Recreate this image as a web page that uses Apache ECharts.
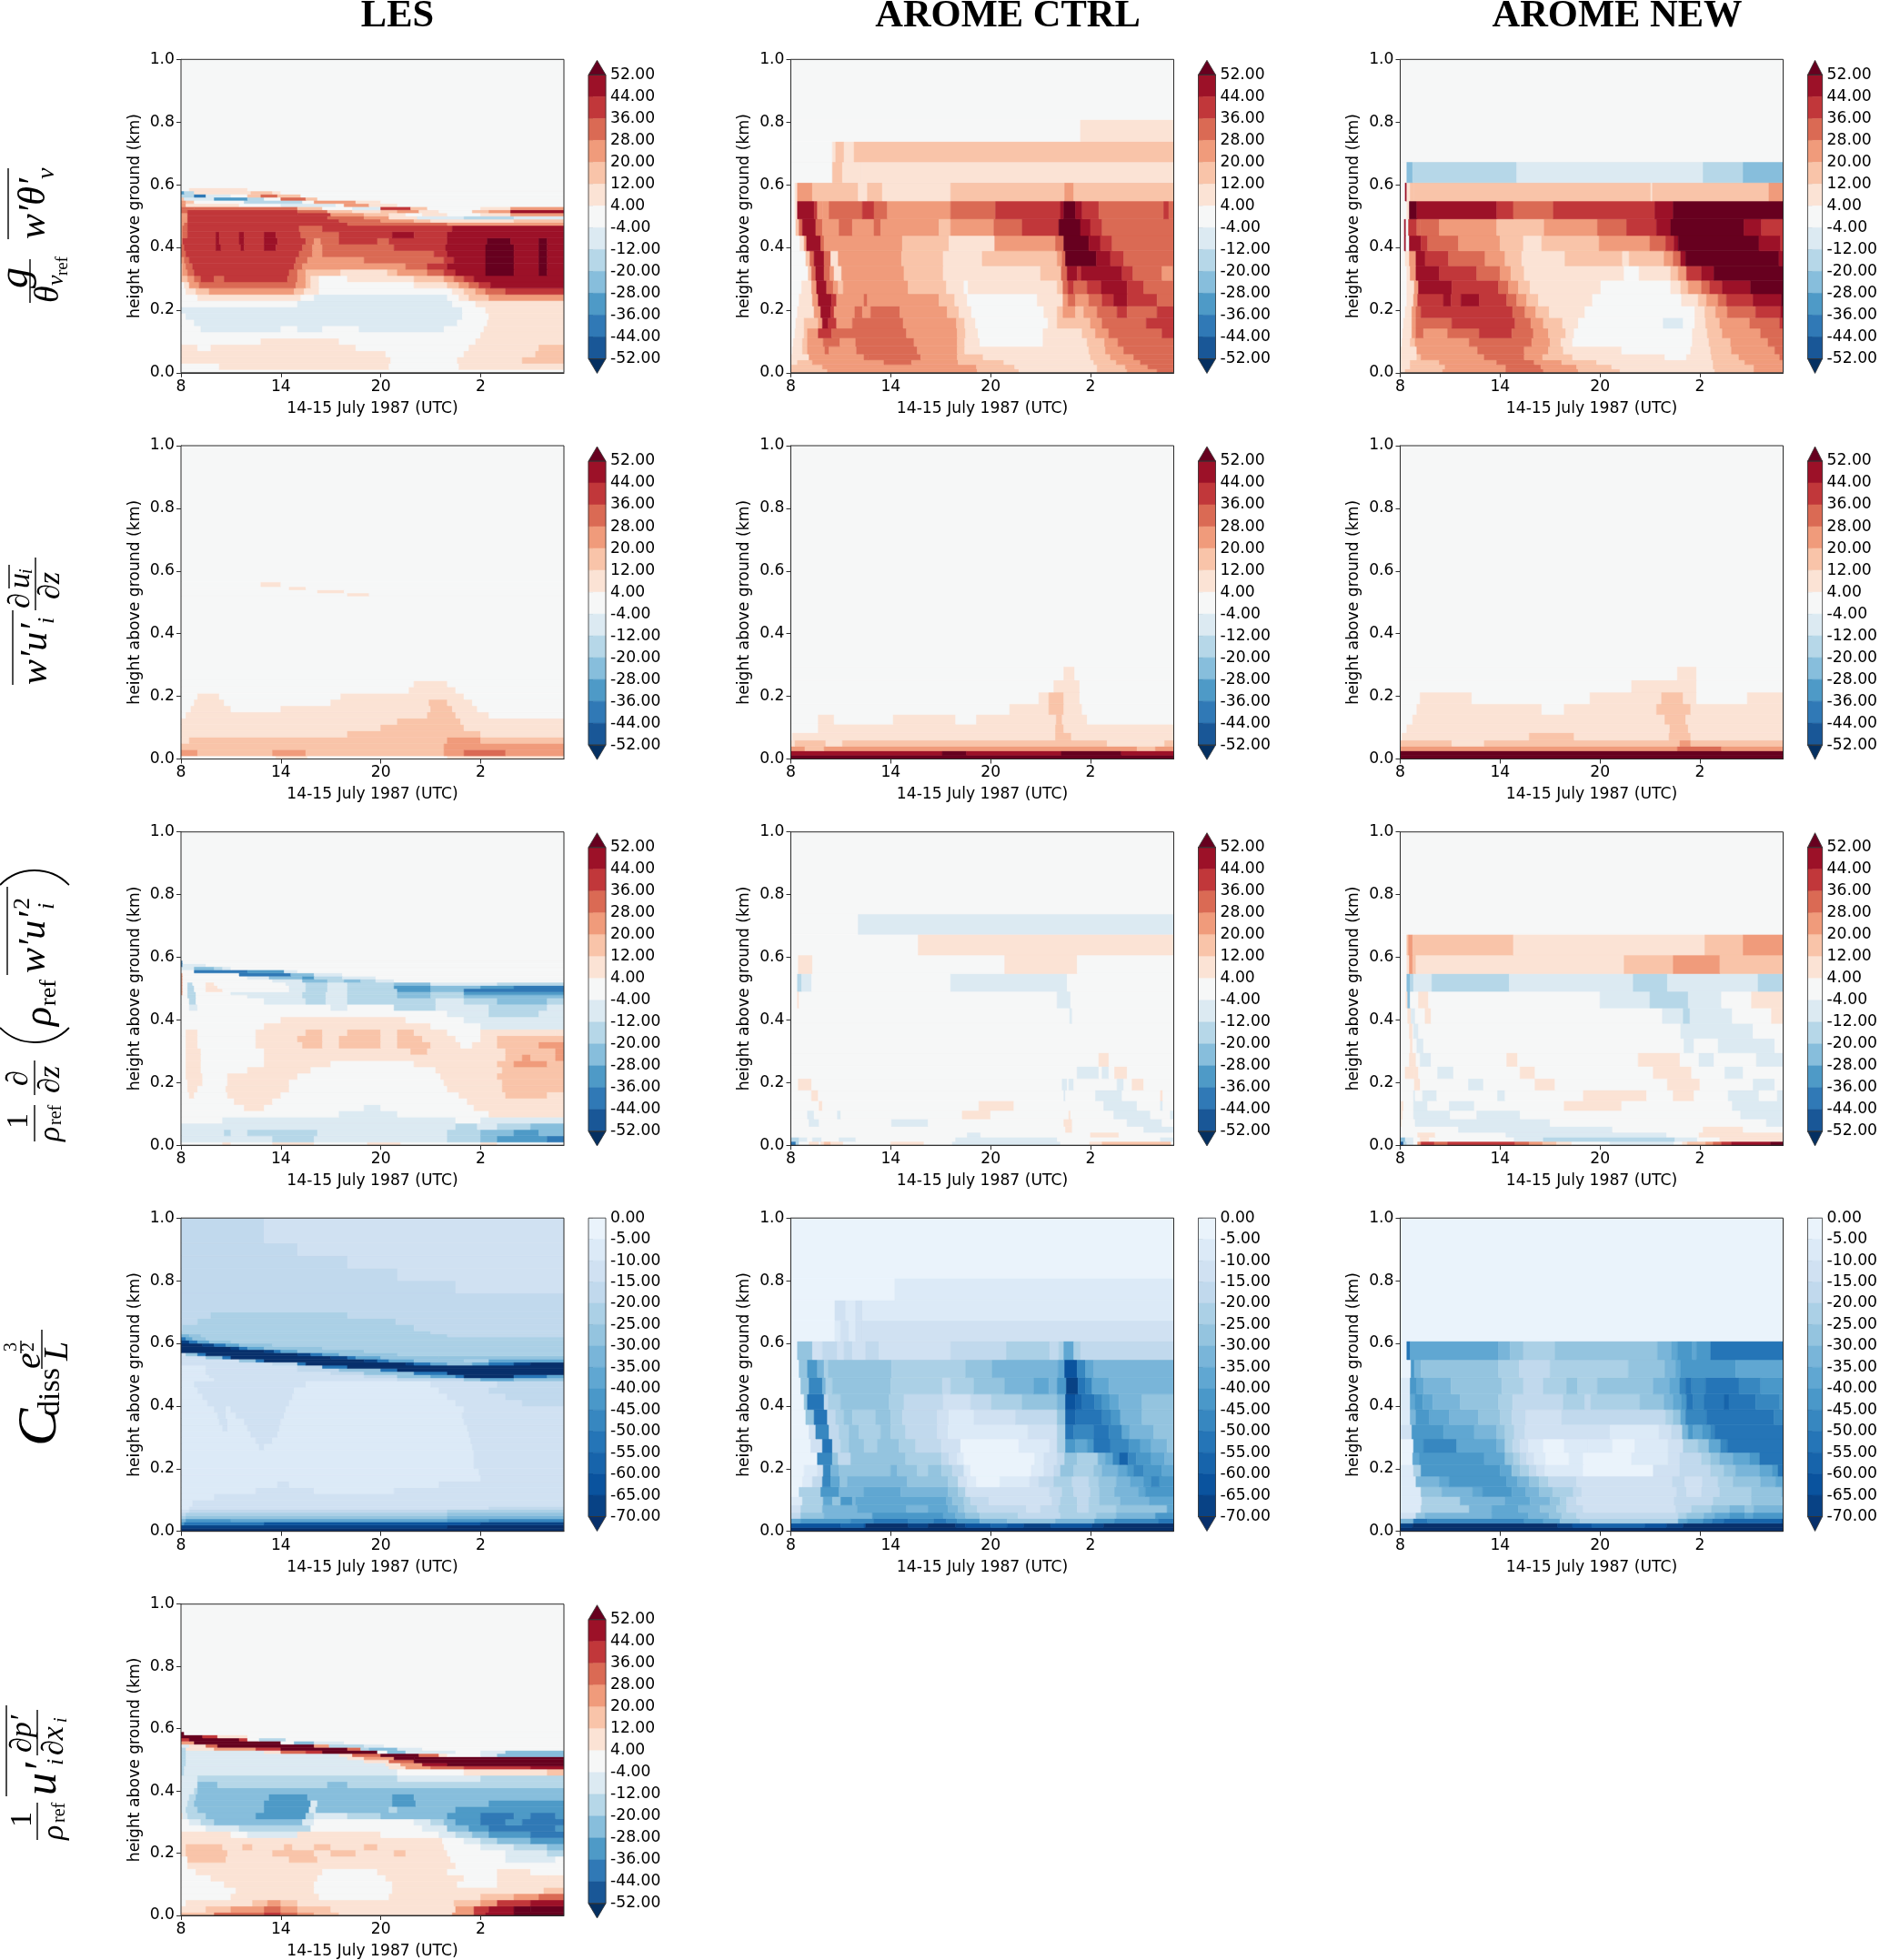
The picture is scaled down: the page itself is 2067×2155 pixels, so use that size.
<!DOCTYPE html>
<html><head><meta charset="utf-8"><style>html,body{margin:0;padding:0;background:#fff}#c{width:2067px;height:2155px}</style>
<script src="https://cdn.jsdelivr.net/npm/echarts@6/dist/echarts.min.js"></script></head><body><div id="c"></div>
<script>
// Class codes. Red-blue scale: g f e d c b a . 1 2 3 4 5 6 7 (lowest to highest). Blue scale: 0..9 a..e (0 = weakest).
// A row is a list of tokens: class code followed by the end hour (hours after 08 UTC); no hour means "to the end".
const columnTitles = ['LES', 'AROME CTRL', 'AROME NEW'];
const hourTicks = [0, 6, 12, 18];
const hourLabels = ['8', '14', '20', '2'];
const redBlueTicks = ['52.00','44.00','36.00','28.00','20.00','12.00','4.00','-4.00','-12.00','-20.00','-28.00','-36.00','-44.00','-52.00'];
const blueTicks = ['0.00','-5.00','-10.00','-15.00','-20.00','-25.00','-30.00','-35.00','-40.00','-45.00','-50.00','-55.00','-60.00','-65.00','-70.00'];
const redBluePalette = ['#053061','#195797','#3079b6','#4e9ac7','#87bedc','#b6d7e8','#dceaf2','#f6f7f7','#fbe3d5','#f9c4a9','#f09b7b','#da6a54','#c1373a','#9c1128','#67001f'];
const bluePalette = ['#eaf3fb','#dceaf7','#d0e1f2','#c1d9ed','#abd0e6','#94c4df','#79b5d9','#60a7d2','#4a98c9','#3787c0','#2575b7','#1764ab','#0a539e','#084285','#08306b'];

const aromeLevels = [0,.012,.026,.041,.06,.084,.111,.142,.176,.213,.252,.295,.341,.389,.438,.491,.548,.607,.673,.738,.808];
const lesLevels = [0,.01,.03,.05,.07,.09,.11,.13,.15,.17,.19,.21,.23,.25,.27,.29,.31,.33,.35,.37,.39,.41,.43,.45,.47,.48,.49,.50,.51,.52,.53,.54,.55,.56,.57,.58,.59];
const lesShearLevels = [0,.01,.03,.05,.07,.09,.11,.13,.15,.17,.19,.21,.23,.25,.52,.53,.54,.55,.565];
const lesDissLevels = [0,.01,.02,.03,.04,.05,.06,.07,.08,.10,.12,.14,.16,.18,.20,.26,.28,.30,.32,.34,.36,.38,.40,.42,.44,.46,.48,.49,.50,.51,.52,.53,.54,.55,.56,.57,.58,.59,.60,.61,.62,.63,.64,.66,.68,.70,.76,.80,.84,.88,.92,.96];

const buoyLes = [".",".2.3 112.5 .16.7 1","112.6 .16.6 120.5 2","112.3 .17 120.8 121.3 2","11 .1.8 110.5 .17.3 121.5 2",".4.8 19.5 .17.7 1",".18 1",".1.2 a6 .7 a8.5 .10.7 a15.8 .18.2 1",".0.8 a16.6 .18.4 1",".0.3 a16.9 .18.5 1","a16.9 .18.3 1",".7 a16.3 .17.7 1",".1 17.2 .8 a16 .16.7 117.3 218.5 3",".0.3 10.9 21.7 36.8 27.4 18.3 .16.3 117 217.7 318.3 419.5 5",".0.2 10.5 31.1 46.9 37.5 27.8 18.3 .14 116 216.7 317.3 417.9 518.6 6","20.4 30.8 41.2 52 42.6 56.4 47 37.5 27.8 18.3 .10 114 215.8 316.4 417 517.6 6","20.1 30.4 40.8 56.5 47 37.5 29.6 112.4 213 314.8 415.8 516.5 618.3 720 621.5 722 6","20.1 30.3 40.7 56.8 47.3 313.5 414.8 516 618.3 720 621.5 722 6","30.2 40.5 56.9 47.6 311 415.8 516.4 618.3 720 621.5 722 6","40.3 57.1 47.9 38.5 415.2 516 618.3 720 621.5 722 6","40.2 52.1 62.4 53.6 63.8 55 65.7 57.3 47.9 38.5 412.8 515.9 618.3 720 621.5 722 6","30.1 52.1 62.3 53.5 63.8 55 65.8 57.5 48 38.4 49.5 511.8 412.5 516 618.4 719.8 621.5 722 6","30.1 40.4 52.1 62.3 53.5 63.8 55 65.7 57.2 49.5 512.7 614 516 6","30.1 40.4 57.1 48.5 516.3 6",
  "30.2 40.4 510 416 3","30.4 59.5 412 314 215 120 2","30.4 58.8 411 312.5 114.2 a17 b20 a","30.4 57 59 311 212.5 113.5 .14.5 116 .18 119.8 3","40.4 57 48.8 210.3 112 213 314.3 115.5 .17.5 218.5 319.8 6","40.8 47 28.5 .10.3 a12 513.8 214.8 .18 119.8 3","30.3 13.5 .6 a9.3 .9.8 311.3 113 .","30.3 20.8 .3.8 b7.3 .8 310.5 112 .","20.2 a2 d4 b5 .6 47.5 28.2 .","b0.8 e1.5 a3 .4 24.8 45.8 27.2 .","d0.2 b0.8 14.2 25.5 16 .",".0.5 14 .","."];
const buoyCtrl = ["22.2 311.2 213.7 118.4 220.2 322 4","10.05 21.9 311.15 213.45 118.4 220.1 321.45 4","10.4 21.3 35.6 47.25 310.05 212.8 118.2 219.55 321 4",".0.05 11.1 34.4 44.65 47.8 310 211.55 118 219.2 320.6 4",".0.1 10.7 21 32.05 42.3 33.95 47.6 310 210.45 117.9 218.9 320 4",".0.15 10.7 21 31.95 42.95 33.9 47.4 310 210.45 111.35 .15.15 117.8 218.85 319.65 4",".0.25 10.8 21 31.65 52.45 46.95 310 210.5 111.25 .15.15 117.5 218.3 319.1 422.3 5",".0.3 10.8 21.65 31.9 62.25 52.75 33.7 46.75 39.95 210.45 111.1 .15.45 116 218 318.7 421.35 5",".0.4 11.4 31.8 62.4 52.6 33.85 44.3 34.8 46.55 39.4 210.1 110.85 .15.2 116 216.35 317.1 217.6 318.4 419.6 520.2 422 5",".0.5 11.3 31.65 62.45 52.75 34.4 44.6 38.9 29.85 110.6 .14.8 116.35 316.65 417.1 317.9 418.7 519.4 620.2 522 4",".0.65 11.25 31.55 62.15 42.55 32.85 23.15 37.05 29.35 110.4 .10.65 116 216.35 416.65 517 417.8 518.65 620.2 521.2 4",".1.05 21.25 41.5 62 42.35 32.6 13.05 36.8 29.15 115 216.25 416.6 617.2 517.45 619.9 520.55 422.3 322.95 4",".0.9 21.15 41.4 62 42.4 12.85 36.65 29.15 111.5 216 316.3 416.5 718.35 619.2 520 4",".0.55 10.8 30.95 61.8 42 36.7 29.5 112.25 315.9 416.4 717.9 618.6 519.3 4",".0.3 20.5 40.7 61.5 41.9 32.9 43.7 35 45.4 38.9 29.6 312.2 413.9 516.1 717.4 618 518.7 4",".0.25 10.4 61.4 51.6 31.9 32.3 44.3 55 45.8 39.6 412.3 516.2 616.4 717.1 617.5 518.5 422.4 522.7 4",".0.25 10.4 31.3 24.05 14.6 25.5 19.6 216.45 317 2",".2.5 23.1 14.25 1",".2.5 12.7 23.2 13.8 2",".17.4 1","."];
const buoyNew = ["10.3 22.55 36.35 48.6 310.7 213.2 118.9 221.25 3","10.6 22.7 36.35 48.45 310.6 212.7 118.8 221.25 3","10.6 22.35 35.8 48.05 39.7 211.8 118.8 220.7 3","11 21.25 35.05 47.45 38.55 210.35 115.9 .17.2 118.7 220.35 322.8 4","11 21 34.65 47.45 38.9 29.8 113.3 .17.45 118.65 219.9 322.5 4",".0.1 10.6 20.9 34.15 47.9 39 29.65 110.35 .17.55 118.55 219.85 322.1 4",".0.15 10.7 30.95 41.4 32.85 44.75 56.7 48 38.9 29.95 110.45 .17.55 118.45 219.35 321.65 4",".0.2 10.7 30.95 43.1 56.9 47.85 38.6 29.75 110.7 .15.8 a17 .17.7 118.35 219.2 321 422.8 5",".0.3 10.7 30.95 41.25 56.75 47.5 38.15 28.95 111.1 .17.7 118.3 218.95 319.65 421.35 522.85 6",".0.4 10.8 31.05 52.6 63.05 53.65 64.75 56.4 47 37.6 28.3 111.55 .16.9 117.9 218.4 319.1 419.6 521.2 622.9 7",".0.4 10.85 31.1 63.1 55.9 46.5 37.1 27.8 112.05 .16.25 116.85 217.3 318.1 418.6 519.35 621.05 7",".0.4 10.6 30.95 62.35 54.6 46 36.65 27.45 113.45 .14.35 116.25 216.7 317.2 518.1 618.85 7",".0.3 10.55 30.95 61.5 52.9 45.1 36.3 27.3 19.9 213.35 113.75 215.85 316.4 416.85 617.15 722.75 6",".0.25 60.35 .0.55 61.25 51.65 43.5 36 27.4 18.5 211.95 315 415.95 516.45 616.7 721.55 622.85 5",".0.25 60.35 .0.5 51 41.2 42.35 35.8 28.65 311.85 413.6 515.4 616.25 720.65 621.7 5",".0.4 10.55 71 65.8 56.8 49.2 515.3 616.4 7",".0.3 60.4 10.6 20.8 215.05 115.15 222.15 3",".0.4 c0.75 b7 a18.2 b20.6 c","."];
const shearLes = [".5.7 17.6 .16 1","31 25.5 37.5 215.8 317 419.5 3","215.8 3","10.5 216 318 2","110 218 1","112 217 1","113 216.8 1",".0.3 114.8 216.5 118.5 .",".0.6 13 .6 115 216.3 117.8 .",".0.8 12.6 .9 114.9 216 117.5 .",".1 12.3 .9.6 117 .",".13.7 116.5 .",".14 116 .",".",".10 111.3 .",".8.2 19.8 .",".6.5 17.5 .",".4.8 16 .","."];
const shearCtrl = ["7","69.1 710.55 616.25 719.85 6","30.85 22 320.8 221.9 3","10.25 22.1 13.1 219 122.45 2",".0.1 115.9 216.85 1",".1.65 115.9 216.4 1",".1.65 12.6 .6.15 19.9 .11.15 115.95 216.3 117.8 .",".13.15 115.5 216.4 117.5 .",".14.9 115.5 216.4 117.35 .",".15.8 117.35 .",".16.4 117.05 .","."];
const shearNew = ["7","7","316.65 419.3 3","23.1 15.05 216.8 317.45 2",".0.1 17.75 210.45 116.15 217.45 1",".0.4 116.2 217.3 1",".0.75 115.9 217.15 1",".1 18.5 .9.85 115.4 217.45 1",".1.2 14.3 .11.4 115.7 217 117.8 .20.85 1",".13.9 117.8 .",".16.65 117.8 .","."];
const transLes = [".2.5 13 .5.5 18 .11.2 113.2 .18 119 .","a5.5 b8 a16 b18 c19 d22 e","a2.6 b3 a4 b8.2 a16 b18 c20 d21.5 c","a16.5 b17.8 a19 b21 c",".2.5 a16.5 .18 a",".9.5 a13 .18.5 1",".3.8 15 .11 a12 .17.6 1",".3.2 15.5 .17.2 1",".0.5 10.8 .2.8 16 .16.7 119.5 222 1",".0.4 11 .2.7 16.5 .16 119.3 2",".0.4 11.3 .2.8 16.5 .15.8 119.3 2",".0.3 11.3 .2.8 17 .15.6 119 2",".0.3 11.2 .4 17.8 .15.3 119.3 2",".0.3 11.2 .5 19 .14 119 220 322 2",".0.3 11.2 .5 119.5 220.5 321 222.5 3",".0.3 11.2 .5 113.8 214.8 119.5 222.5 3",".0.3 11 .4.5 17.3 28.5 19.5 212 113 215 116.8 .17.5 119 221.5 3",".0.3 11 .4.5 17 28.5 19.5 212 113 214.5 116.5 .18 119 2",".0.3 11 .4.5 17.5 28.5 110 212 113 214 116 .18 119.5 122.5 1",".5 115 .18 a",".6 113.5 .17 a",".16 a18.5 b21.5 a",".0.5 a1 .9 a10 .12.8 b15.3 a18.5 b22 a",".0.5 b0.9 .5 a7.5 b8.7 a10 b15.3 a17 b19 c22 b",
  ".0.4 b0.9 .4 a7.3 b8.7 a10 b13 c15 b17 c","30.1 .0.4 b0.9 .3 a7.3 b8.7 a10 b13 c15 b17 d","30.1 .0.4 b0.8 .1.5 12.5 .6.5 a7.5 b8.8 a10 b13 d15 c17 e","30.1 .0.4 b0.8 .1.5 12.2 .6.5 a7.5 b8.8 a10 b12.8 d15 c18 d20 e","30.1 .0.4 b0.7 .1.5 12 .6.3 a7.5 b8.8 a10 b12.8 c15 a19 b","30.1 .5.5 a7.3 c8.8 b9.8 c10.8 b11.7 a12.8 .","30.1 .4 a5.3 c7.3 d8 b9.7 a11.7 .","30.1 .3.5 e6.6 c8 a9.7 .",".0.8 e4 d6.2 a7 .","a0.8 c2 b2.5 a3 .","e0.1 a1.5 .","e0.1 .","."];
const transCtrl = ["e0.3 b0.5 .1.1 11.7 .1.8 12 22.4 13.15 .6 18 .9.7 a16.2 .17.95 118.7 222.85 .","b0.5 a1 .1.3 a1.85 .2.9 a3.9 .9.9 a16 .22.2 a",".10.6 a11.4 .18 119.7 .",".16.5 116.9 .21.2 a",".1.1 a1.7 .6.05 a8.25 .16.4 116.9 .20.2 a22.3 .",".1 a1.4 .2.8 a3 .10.3 112 .16.7 116.8 .19.4 a21.6 .22.8 a",".1.7 11.9 .11.3 113.4 .18.8 a20.8 .22.2 a22.35 .",".1.25 11.65 .16.4 a16.5 .18.3 a19.9 .22.2 122.35 .",".0.45 11.25 .16.3 a16.6 .16.7 a17 .19.6 a20 .20.5 121.2 .",".17.2 a18.5 .18.7 a19.1 .19.45 120.2 .",".18.5 119.1 .",".",".",".16.75 a16.9 .",".0.4 10.5 .16 a16.8 .",".0.4 b0.65 a1.25 .9.6 a16.6 .",".0.45 11.3 .12.85 117.2 .",".7.65 1",".4.05 a","."];
const transNew = ["f0.2 b0.4 a0.8 .1.05 31.25 52.05 42.85 56.9 47.75 38.55 29.4 110.3 .12.6 a16.45 .16.95 117.25 218.35 318.8 419.3 519.9 622.25 7","c0.3 a0.8 .1.2 11.75 .6.85 a8.6 b16.5 a17.85 .19.2 1",".1.05 12.1 .6.35 a16 .17.95 1",".3.5 a12.75 .18.2 120.6 .","10.1 .0.9 a9 .22 a","10.15 .0.8 a3 .4.6 a7.2 .20.45 a","10.2 .0.8 a1.65 .2.95 a4.45 .9.85 113.3 .19.95 a",".0.8 a0.9 .1.35 a2.2 .5.85 a6.3 .11 114.8 .16.4 117.65 .19.7 a21.55 .22.65 a",".0.85 11.2 .4.1 a5 .8.1 19.3 .16.05 118 .21.2 a22.5 .",".0.3 10.8 11.1 .2.25 a3.2 .7.2 18.1 .15.2 117.5 .19.5 a20.6 .",".0.55 10.95 .1.2 a1.85 .6.4 17.05 .14.3 116.8 .17.95 a18.85 .21.4 a",".0.6 10.75 .1 a1.4 .17.05 a17.65 .19.1 a22.5 .",".0.55 10.75 .0.8 a1.1 .16.85 a21.2 .",".0.45 10.65 a0.9 .1.5 11.85 .15.75 a17 b17.4 a19.95 .22.3 1",".0.35 10.45 c0.6 .1.1 11.7 .12 a15 b17.3 a19.3 .21.1 1",".0.4 c0.6 b0.8 a1.9 b6.55 a14 b16.05 a21.5 b",".0.4 10.55 30.75 20.95 113.45 216.4 319.2 2",".0.4 20.5 30.75 26.8 118.3 220.6 3","."];
const dissLes = ["e","d16 e","80.2 a5 c18 d","60.3 83 716 818.5 9","40.3 516 6","30.3 416 5","20.5 316 4","10.5 218.5 3","10.7 2","12 2","14.5 28 112.8 2","15.8 26.5 115.5 2","118 2","117.9 2","117.6 2","14.7 25 117.5 2","14.5 25.5 117.4 2","14.2 25.8 117.3 2","12.5 22.8 14 25.9 117.2 2","12.3 22.8 13.8 26 117 2","12.2 22.7 13.3 26.2 116.9 2","12 22.7 13 26.3 117 2","11.6 26.5 116.5 220.5 3","11.3 26.7 116 219.5 3","11 26.8 115.5 218.5 3","10.8 27.5 115 219 3","12 213 317 518 720 5","11.7 211 313 515 716.5 a17 e20 a22 7","11.5 29 311 514 a16 e","11.5 27 39.5 512 a13 e","11.5 27 38.5 a10 e","25.5 37 a7.5 e13.5 d14 a15 716 517.5 718.5 a20 d21 e","23.5 54.5 a5 e11 d11.8 a12.5 714 517 418.5 7","21.5 52.5 a3 e9 d10 a10.5 712 515.5 5","20.3 51 a1.5 e7 d7.8 a8.5 79.5 513 4","e5 d5.6 a6 77 511 4","e3 d3.5 a4 75 58.5 4","e1.3 d2 a2.7 73.5 55.5 4","d0.5 a1 71.7 53 4","a0.3 70.7 51.5 4","60.5 51.2 416 3","415 3","30.1 414 3","31 412.9 3","31.8 410 3","3","316.5 2","313 2","310 2","37 2","35 2"];
const dissCtrl = ["e","c3 b4.4 c4.5 e7.05 d8.25 e9.9 d10.5 c12 b13 c14 d15.6 c18.1 d18.8 e","70.6 83.6 95 a7.05 98.6 a9.35 910 811.35 613 515.9 618.25 819.45 922.1 a","30.6 52 64.9 89.15 79.9 610.5 511.35 413.65 316.2 418.35 519.55 621.9 8","20.6 41.9 64 76.95 68.25 79.45 610.05 510.45 411.2 314.15 215 316.1 417.2 317.9 419.55 522.6 7","10.7 41.95 72.5 53 83.7 63.9 79.35 69.7 510.4 410.8 311.9 215.7 316.2 417.2 317.9 418.55 519.8 621.55 7","00.5 41.8 82.9 64.4 76.6 69.45 510.05 410.5 215.55 316.3 417 318 418.55 519.45 620.9 721.3 8","00.7 11.3 31.9 92.4 72.95 53.4 67 59.45 410.05 210.6 111.15 012.55 114.35 214.9 315.8 416.9 317.9 418.5 519.55 620.4 721.2 821.65 922.15 8","00.8 11.6 21.95 92.4 62.9 56 66.4 57.6 48.25 59.05 49.7 310.4 110.8 014.45 115.2 215.8 316.2 517 418.2 518.7 619.65 720.2 820.6 921.2 822.3 7","01.6 92.5 52.85 33.6 56.9 49.05 39.5 210 110.4 014.65 115.2 216 316.45 517.2 418.45 618.9 719.35 919.75 b20.25 920.75 821.65 722.45 6","01.2 21.9 a2.5 33 43.5 54.4 45.2 56.5 47.5 39.05 210.2 013.7 115.55 216 416.5 817.1 717.8 818.2 a19.2 920.3 821 721.65 622.6 5","01.1 21.5 92.3 32.9 43.5 54.1 45.4 56 46.9 38.8 29.45 114.25 216 416.5 a17 918.2 a19.1 919.9 720.35 621.8 5","00.9 51.4 a2.2 32.7 43.2 53.7 45.1 56 46.7 38.8 29.5 111 213.5 316 516.5 b17.1 a18.7 919.25 819.8 621.1 5","00.8 51 a2 32.25 43 55.9 46.8 39.15 210.8 312.05 413.9 516 616.5 c17.1 b17.5 a18.25 918.7 819.15 719.7 621.1 5","00.6 51.1 91.9 62.1 42.5 56 49.1 39.6 411 512.85 614.6 715.5 616 816.55 d17.25 a17.7 918.1 719.1 6","00.5 51 81.6 62 42.25 56.05 410.5 512.1 616.05 716.45 c17.2 917.7 718.2 6","00.4 51.3 21.9 32.8 23.2 33.7 24.5 35.3 29.6 312.95 415.55 316.1 416.4 717 417.4 3","02.65 13 23.5 13.9 24.3 2","02.65 23.3 13.9 24.3 1","06.25 1","0"];
const dissNew = ["e","d0.75 e9.45 d10.35 c11.5 b14.7 c16 d17 e","60.8 a1.65 97.45 88.6 79.6 510.8 416.7 717.25 818.2 918.75 a19.45 b22.9 c","20.95 51.5 65.5 77.7 68.95 59.7 410.6 316.7 417.2 518.25 618.9 719.8 820.7 721.2 8","11.25 44.15 65.5 77.1 68.4 59.4 410 311 216.55 317.5 418.7 519.8 620.7 521.25 6","11.3 43.6 66.3 77.8 69 59.6 410 310.6 216.45 318.8 421.1 5","11.25 52.5 64.35 74.95 86.7 77.55 68.35 59.15 410.4 310.9 216.6 317.2 218.1 319.2 421.1 522.9 6","10.95 62.35 72.95 86.4 77.05 67.75 58.35 48.9 310.6 216.35 317.1 218.15 319.1 420 521.65 622.55 7","10.8 41.25 86 76.7 57.2 47.75 38.2 28.7 111 015.2 216.8 318.65 419.45 520.15 621.6 722.35 822.7 a","00.75 71.15 85.05 76.3 56.8 47.2 37.6 28.05 18.75 010.15 111 013.9 116.1 216.8 318.1 418.65 519.2 620 721 821.6 a","00.8 81.4 93.4 75.8 66.3 46.75 37.2 27.7 18.6 09.85 111.3 112.75 014.1 116.1 217 417.9 518.55 719.25 919.65 a","20.7 82.6 74.45 65.8 56.3 46.85 37.5 212.6 115.55 216.3 316.95 617.3 817.6 718.15 818.65 918.9 a","10.6 60.95 81.75 72.95 64.7 56 46.7 37.55 29.7 315.95 416.4 516.85 717.15 918.4 a22.45 9","10.6 70.9 81.35 71.95 63.6 55.9 46.75 39.8 411.1 311.45 414.4 515.85 616.4 716.9 817.2 a17.6 918.25 a19.45 b19.75 a21.35 922.8 8","10.6 81 71.4 63.05 56.1 47.4 38.6 410 510.65 411.85 515.2 616.2 716.8 917.15 a17.5 918.35 a20.35 921.65 8","00.65 80.85 61.25 55.9 47.15 39 413.7 515.9 616.55 716.85 820.15 7","00.4 a0.6 75.9 66.6 57.4 49.3 515.45 616.3 716.65 817.55 717.8 818.65 a","0"];
const pressLes = ["22 45 56 47 38 29.5 116.3 317.6 518.3 620 7","11.5 23 35 46 37 29 116.5 317.6 518.5 620 721 7",".0.3 14.3 25.2 36 27 116.4 218 319 521 6",".3 18.3 .12.5 118 220 321.5 4",".3.3 18 .12.7 121.8 2",".2.6 13.5 18 .12.7 116.6 .19 1",".1.8 18.2 .12.3 117 .19 122 1",".0.9 18.5 .11.8 116 .19 121 .",".0.4 116.5 .",".0.4 22.7 16.5 28.2 116.2 .19.5 a22.5 .","10.3 22.8 15.5 28 19 210.5 112.8 213.5 116 .19.5 a22 b","10.3 22.5 13.7 24.3 16.2 26.7 18 29 111 211.8 115.8 .18 a20 b22 c","115.7 .17 a18 b19 c21 d","13 .4 a7 112 .15.5 a16.5 b17.5 c18.5 d21 e",".1.5 a3.5 b7.8 .14.5 a16 c17.3 d18.5 e22.5 d",".0.5 a1.2 b2 c7.3 a8 .14 a15 b15.8 c16.5 d18 e19.5 d20.5 e","10.1 a0.4 b1.5 c4.5 d7.5 b8 a10 b12 c16 d18 e20 d21 e22.5 d","a0.3 b1 c5 d7.7 a8.1 c12.5 b13 c16.5 d","a0.4 b0.8 c5 d7.8 a8.2 c12.7 d14.1 c18.5 d","a0.5 b0.9 c5.3 d7.6 c12.7 d14 c","a0.8 b1 c","a1 c2.2 b8.8 c10 b","a1 b13 a18 b","b0.2 a13 .17 122 2",
  "b0.2 a12.5 113.5 315 417 521 6","b0.3 a12.3 113.2 314.5 616 7","b0.3 a11 112.5 414 7","b0.3 a10 111 312.8 714 7","b0.3 a9.5 110.3 412 714.3 415.5 116 .18 a19 c","b0.3 a5 16 47.5 58.5 711.8 .12.4 c13.5 a16.5 .18 a19.5 c","b0.3 12 34.5 56 710 410.8 b11.3 c13 a14.5 .","a0.5 11.5 42.2 78 38.9 b11 a12.2 .","30.8 76 .6.8 c8 a9.8 .","50.5 73.5 54 .4.7 b6.3 .","71.3 52.2 14 .","70.2 .","."];

const panels = [
  [0,0,buoyLes,lesLevels,'rb'],[1,0,buoyCtrl,aromeLevels,'rb'],[2,0,buoyNew,aromeLevels,'rb'],
  [0,1,shearLes,lesShearLevels,'rb'],[1,1,shearCtrl,aromeLevels,'rb'],[2,1,shearNew,aromeLevels,'rb'],
  [0,2,transLes,lesLevels,'rb'],[1,2,transCtrl,aromeLevels,'rb'],[2,2,transNew,aromeLevels,'rb'],
  [0,3,dissLes,lesDissLevels,'bl'],[1,3,dissCtrl,aromeLevels,'bl'],[2,3,dissNew,aromeLevels,'bl'],
  [0,4,pressLes,lesLevels,'rb']
];
const RB = 'gfedcba.1234567', BL = '0123456789abcde';
const TOTAL = 23;
function toCells(rows, levels, kind){
  const cells = [];
  rows.forEach((row,k)=>{
    const z0 = levels[k], z1 = k===rows.length-1 ? 1 : levels[k+1];
    let t = 0;
    row.trim().split(/\s+/).forEach(tok=>{
      const code = tok[0], end = tok.length>1 ? parseFloat(tok.slice(1)) : TOTAL;
      const v = kind==='rb' ? (RB.indexOf(code)-7)*8 : -(BL.indexOf(code)*5+2.5);
      if(end<=t) return;
      cells.push([t,end,z0,z1,v]); t = end;
    });
    if(t<TOTAL && cells.length) cells.push([t,TOTAL,z0,z1,cells[cells.length-1][4]]);
  });
  return cells;
}
const colorRB = v => redBluePalette[Math.max(0,Math.min(14,Math.round(v/8)+7))];
const colorBL = v => bluePalette[Math.max(0,Math.min(14,Math.floor(-v/5)))];
const cellRenderer = colorOf => (params,api)=>{
  const a = api.coord([api.value(0),api.value(2)]), b = api.coord([api.value(1),api.value(3)]);
  const c = colorOf(api.value(4));
  return {type:'rect',shape:{x:a[0],y:b[1],width:b[0]-a[0],height:a[1]-b[1]},style:{fill:c,stroke:c,lineWidth:0.6}};
};
const triangleRenderer = colorOf => (params,api)=>{
  const p = [api.coord([0,api.value(1)]),api.coord([1,api.value(1)]),api.coord([0.5,api.value(0)])];
  return {type:'polygon',shape:{points:p},style:{fill:colorOf(api.value(2)),stroke:'#333',lineWidth:0.8}};
};

const X0 = [199,869.5,1539.5], W = 421, Y0 = [65.3,490,914.7,1339.2,1763.7], H = 344.5;
const FONT = '"DejaVu Sans"', FS = 17.2;
const grid=[],xAxis=[],yAxis=[],series=[];
panels.forEach(([col,row,rows,levels,kind])=>{
  const i = grid.length, colorOf = kind==='rb'?colorRB:colorBL;
  grid.push({left:X0[col],top:Y0[row],width:W,height:H,show:true,z:6,backgroundColor:'transparent',borderColor:'#2a2a2a',borderWidth:1});
  xAxis.push({gridIndex:i,type:'value',min:0,max:TOTAL,position:'bottom',splitLine:{show:false},
    name:'14-15 July 1987 (UTC)',nameLocation:'middle',nameGap:31,nameTextStyle:{fontFamily:FONT,fontSize:FS,color:'#000'},
    axisLine:{show:true,onZero:false,lineStyle:{color:'#2a2a2a'}},axisTick:{show:true,length:5,customValues:hourTicks,lineStyle:{color:'#2a2a2a'}},
    axisLabel:{fontFamily:FONT,fontSize:FS,color:'#000',margin:7,customValues:hourTicks,formatter:v=>hourLabels[hourTicks.indexOf(v)]}});
  yAxis.push({gridIndex:i,type:'value',min:0,max:1,interval:0.2,splitLine:{show:false},
    name:'height above ground (km)',nameLocation:'middle',nameGap:42,nameRotate:90,nameTextStyle:{fontFamily:FONT,fontSize:FS,color:'#000'},
    axisLine:{show:true,onZero:false,lineStyle:{color:'#2a2a2a'}},axisTick:{show:true,length:5,lineStyle:{color:'#2a2a2a'}},
    axisLabel:{fontFamily:FONT,fontSize:FS,color:'#000',margin:7,formatter:v=>v.toFixed(1)}});
  series.push({type:'custom',xAxisIndex:i,yAxisIndex:i,clip:true,silent:true,renderItem:cellRenderer(colorOf),
    encode:{x:[0,1],y:[2,3]},data:toCells(rows,levels,kind),animation:false});
});
// colour bars
panels.forEach(([col,row,rows,levels,kind])=>{
  const i = grid.length, rb = kind==='rb';
  const labels = rb?redBlueTicks:blueTicks, n = labels.length-1;
  const colorOf = rb?colorRB:colorBL;
  const top = rb ? Y0[row]+17 : Y0[row], height = rb ? 312.2 : 328.3;
  grid.push({left:X0[col]+448,top:top,width:19,height:height,show:true,z:6,backgroundColor:'transparent',borderColor:'#333',borderWidth:0.8});
  xAxis.push({gridIndex:i,type:'value',min:0,max:1,show:false});
  yAxis.push({gridIndex:i,type:'value',min:0,max:n,interval:1,inverse:true,position:'right',splitLine:{show:false},
    axisLine:{show:false},axisTick:{show:true,length:5,lineStyle:{color:'#222'}},
    axisLabel:{fontFamily:FONT,fontSize:FS,color:'#000',margin:5,formatter:v=>labels[v]}});
  const bands = [];
  for(let k=0;k<n;k++) bands.push([0,1,k,k+1, rb ? (6-k)*8 : -(k*5+2.5)]);
  series.push({type:'custom',xAxisIndex:i,yAxisIndex:i,clip:false,silent:true,renderItem:cellRenderer(colorOf),encode:{x:[0,1],y:[2,3]},data:bands,animation:false});
  const over = rb ? 16/24.02 : 16/23.45;
  const tri = rb ? [[-over,0,56],[n+over,n,-56]] : [[n+over,n,-72.5]];
  series.push({type:'custom',xAxisIndex:i,yAxisIndex:i,clip:false,silent:true,renderItem:triangleRenderer(colorOf),encode:{y:[0,1]},data:tri,animation:false});
});

// Column titles and math row labels
const graphic = [];
[437,1108,1778].forEach((x,i)=>graphic.push({type:'text',x:x,y:18,z:10,style:{text:columnTitles[i],fontFamily:'"Liberation Serif"',fontWeight:'bold',fontSize:42.5,fill:'#000',align:'center',verticalAlign:'middle'}}));
function mathLabel(cx,cy,items,bars,arcs){
  const children = [];
  items.forEach(([text,x,y,size,it])=>children.push({type:'text',x:x,y:y,style:{text:text,fontFamily:'"Liberation Serif"',fontStyle:it?'italic':'normal',fontSize:size,fill:'#000',align:'left',verticalAlign:'middle'}}));
  bars.forEach(([x1,y1,x2,y2])=>children.push({type:'line',shape:{x1,y1,x2,y2},style:{stroke:'#000',lineWidth:1.4}}));
  (arcs||[]).forEach(([x,r,a0,a1])=>children.push({type:'arc',shape:{cx:x,cy:0,r:r,startAngle:a0,endAngle:a1,clockwise:true},style:{stroke:'#000',lineWidth:1.8,fill:'none'}}));
  graphic.push({type:'group',x:cx,y:cy,rotation:Math.PI/2,z:10,children});
}
mathLabel(42,259,[['g',-58,-24,46,1],['θ',-74,12,38,1],['v',-55,20,26,1],['ref',-44,27,19,0],['w′θ′',-4,-4,42,1],['v',62,10,28,1]],[[-74,-9,-26,-9],[-4,-33,74,-33]]);
mathLabel(40,683,[['w′u′',-70,0,42,1],['i',-3,12,26,1],['∂',14,-17,34,1],['u',36,-17,34,1],['i',52,-10,20,1],['∂z',24,16,34,1]],[[-70,-26,12,-26],[12,-1,70,-1],[36,-30,62,-30]]);
mathLabel(38,1106,[['1',-135,-17,34,0],['ρ',-149,18,34,1],['ref',-131,24,20,0],['∂',-88,-17,34,1],['∂z',-96,18,34,1],['ρ',-22,6,44,1],['ref',0,16,26,0],['w′u′',36,0,42,1],['2',106,-13,26,0],['i',106,14,26,1]],[[-149,0,-109,0],[-98,0,-60,0],[34,-30,131,-30]],[[13,53,Math.PI*0.746,Math.PI*1.254],[96,53,-Math.PI*0.254,Math.PI*0.254]]);
mathLabel(40,1526,[['C',-64,5,62,1],['diss',-31,16,34,0],['e',21,-7,40,1],['3',40,-27,20,0],['2',40,-8,20,0],['L',30,24,38,1]],[[21,6,64,6],[38,-17,52,-17]]);
mathLabel(40,1949,[['1',-60,-15,34,0],['ρ',-74,20,34,1],['ref',-55,26,20,0],['u′',-25,8,50,1],['i',8,22,26,1],['∂p′',22,-15,34,1],['∂x',19,20,34,1],['i',55,28,20,1]],[[-74,1,-33,1],[-26,-33,74,-33],[19,1,69,1]]);

const chart = echarts.init(document.getElementById('c'),null,{renderer:'canvas',width:2067,height:2155});
chart.setOption({animation:false,backgroundColor:'#fff',grid,xAxis,yAxis,series,graphic,tooltip:{show:false}});
</script></body></html>
